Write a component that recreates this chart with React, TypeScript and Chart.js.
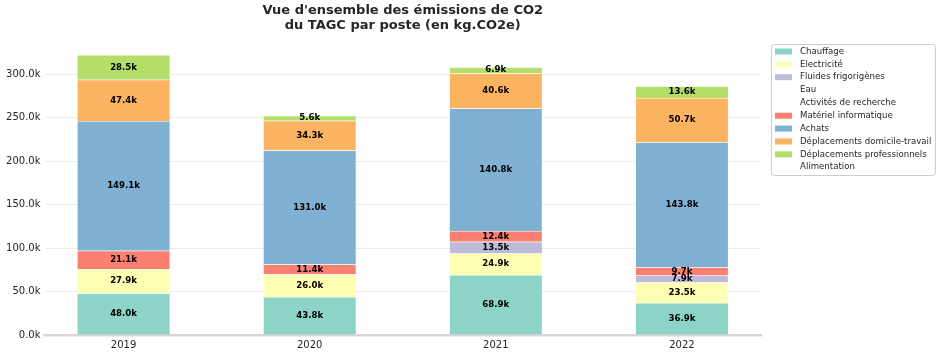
import React, { useEffect, useRef } from "react";
import { Chart, registerables } from "chart.js";

Chart.register(...registerables);

const categories = ["2019", "2020", "2021", "2022"];
const seriesNames = [
  "Chauffage",
  "Electricité",
  "Fluides frigorigènes",
  "Eau",
  "Activités de recherche",
  "Matériel informatique",
  "Achats",
  "Déplacements domicile-travail",
  "Déplacements professionnels",
  "Alimentation",
];
// values in kg.CO2e (read in thousands)
const chauffage = [48.0, 43.8, 68.9, 36.9];
const electricite = [27.9, 26.0, 24.9, 23.5];
const fluides = [0, 0, 13.5, 7.9];
const eau = [0, 0, 0, 0];
const recherche = [0, 0, 0, 0];
const materiel = [21.1, 11.4, 12.4, 9.7];
const achats = [149.1, 131.0, 140.8, 143.8];
const domicileTravail = [47.4, 34.3, 40.6, 50.7];
const professionnels = [28.5, 5.6, 6.9, 13.6];
const alimentation = [0, 0, 0, 0];
const seriesValues = [
  chauffage, electricite, fluides, eau, recherche,
  materiel, achats, domicileTravail, professionnels, alimentation,
];
const seriesColors = [
  "#8dd3c7", "#ffffb3", "#bebada", "rgba(0,0,0,0)", "rgba(0,0,0,0)",
  "#fb8072", "#80b1d3", "#fdb462", "#b3de69", "rgba(0,0,0,0)",
];
const yTicks = [0, 50000, 100000, 150000, 200000, 250000, 300000];
const titleLines = ["Vue d'ensemble des émissions de CO2", "du TAGC par poste (en kg.CO2e)"];

const FONT = "'DejaVu Sans', sans-serif";
const TEXT = "#262626";

export default function App() {
  const ref = useRef<HTMLCanvasElement | null>(null);

  useEffect(() => {
    const canvas = ref.current;
    if (!canvas) return;

    const totals = categories.map((_, i) =>
      seriesValues.reduce((s, arr) => s + arr[i] * 1000, 0)
    );
    const yMax = Math.max(...totals) * 1.05;

    const datasets = seriesNames.map((name, k) => ({
      label: name,
      data: seriesValues[k].map((v, i) => ({ x: i, y: v * 1000 })),
      backgroundColor: seriesColors[k],
      borderColor: "rgba(255,255,255,0.7)",
      borderWidth: 0.5,
      barPercentage: 1,
      categoryPercentage: 0.5,
    }));

    const overlay = {
      id: "overlay",
      afterDatasetsDraw(chart: any) {
        const ctx = chart.ctx;
        ctx.save();
        ctx.fillStyle = "#000";
        ctx.font = `bold 8.6px ${FONT}`;
        ctx.textAlign = "center";
        ctx.textBaseline = "middle";
        chart.data.datasets.forEach((ds: any, k: number) => {
          const meta = chart.getDatasetMeta(k);
          meta.data.forEach((el: any, i: number) => {
            const v = seriesValues[k][i];
            if (!v) return;
            const cy = (el.y + el.base) / 2;
            ctx.fillText(`${v.toFixed(1)}k`, el.x, cy);
          });
        });
        ctx.restore();
      },
      afterDraw(chart: any) {
        const ctx = chart.ctx;
        const area = chart.chartArea;
        ctx.save();
        // title
        ctx.fillStyle = TEXT;
        ctx.font = `bold 13px ${FONT}`;
        ctx.textAlign = "center";
        ctx.textBaseline = "middle";
        const cx = (area.left + area.right) / 2;
        titleLines.forEach((t, i) => ctx.fillText(t, cx, 11 + i * 14.5));

        // legend
        const bx = 771.5, by = 44.5, bw = 164, bh = 131;
        ctx.beginPath();
        const r = 3;
        ctx.moveTo(bx + r, by);
        ctx.lineTo(bx + bw - r, by);
        ctx.quadraticCurveTo(bx + bw, by, bx + bw, by + r);
        ctx.lineTo(bx + bw, by + bh - r);
        ctx.quadraticCurveTo(bx + bw, by + bh, bx + bw - r, by + bh);
        ctx.lineTo(bx + r, by + bh);
        ctx.quadraticCurveTo(bx, by + bh, bx, by + bh - r);
        ctx.lineTo(bx, by + r);
        ctx.quadraticCurveTo(bx, by, bx + r, by);
        ctx.closePath();
        ctx.fillStyle = "rgba(255,255,255,0.8)";
        ctx.fill();
        ctx.strokeStyle = "#cccccc";
        ctx.lineWidth = 1;
        ctx.stroke();

        ctx.font = `8.6px ${FONT}`;
        ctx.textAlign = "left";
        ctx.textBaseline = "middle";
        seriesNames.forEach((name, k) => {
          const y = 51.5 + k * 12.85;
          ctx.fillStyle = seriesColors[k];
          ctx.fillRect(775, y - 3, 17, 6);
          ctx.fillStyle = TEXT;
          ctx.fillText(name, 800, y);
        });
        ctx.restore();
      },
    };

    const chart = new Chart(canvas, {
      type: "bar",
      data: { datasets },
      options: {
        responsive: false,
        animation: false,
        layout: { padding: { top: 41, right: 179, left: 0, bottom: 0 } },
        plugins: {
          legend: { display: false },
          title: { display: false },
          tooltip: { enabled: false },
        },
        scales: {
          x: {
            type: "linear",
            stacked: true,
            offset: false,
            min: -0.425,
            max: 3.425,
            afterBuildTicks: (s: any) => {
              s.ticks = categories.map((_, i) => ({ value: i }));
            },
            afterFit: (s: any) => {
              s.height = 21;
            },
            ticks: {
              callback: (v: any) => categories[v] ?? "",
              color: TEXT,
              font: { family: FONT, size: 10 },
              padding: 4,
              maxRotation: 0,
            },
            grid: { display: false, drawTicks: false, offset: false },
            border: { display: true, color: "#d6d6d6", width: 2.5 },
          },
          y: {
            type: "linear",
            stacked: true,
            min: 0,
            max: yMax,
            afterBuildTicks: (s: any) => {
              s.ticks = yTicks.map((v) => ({ value: v }));
            },
            afterFit: (s: any) => {
              s.width = 44.5;
            },
            ticks: {
              callback: (v: any) => `${(Number(v) / 1000).toFixed(1)}k`,
              color: TEXT,
              font: { family: FONT, size: 10 },
              padding: 4,
            },
            grid: { color: "#ececec", lineWidth: 1, drawTicks: false },
            border: { display: false },
          },
        },
      },
      plugins: [overlay],
    } as any);

    return () => chart.destroy();
  }, []);

  return (
    <div style={{ position: "fixed", left: 0, top: 0, width: 940, height: 356, background: "#fff" }}>
      <canvas ref={ref} width={940} height={356} style={{ width: 940, height: 356 }} />
    </div>
  );
}
